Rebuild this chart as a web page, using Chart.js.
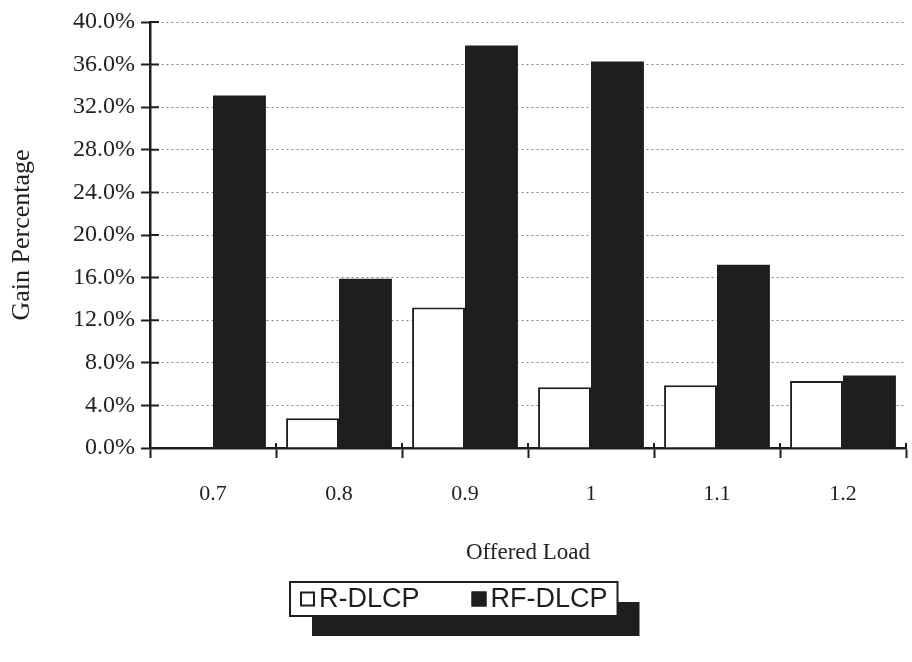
<!DOCTYPE html>
<html>
<head>
<meta charset="utf-8">
<style>
  html, body { margin: 0; padding: 0; background: #fff; }
  #wrap { width: 912px; height: 662px; }
</style>
<script src="https://cdn.jsdelivr.net/npm/chart.js@4.4.1/dist/chart.umd.min.js"></script>
</head>
<body>
<div id="wrap"><canvas id="gainChart" width="912" height="662"></canvas></div>
<script>
// Offered load categories and gain (%) for each scheme
const loads = ['0.7', '0.8', '0.9', '1', '1.1', '1.2'];
const rDlcp = [0, 2.8, 13.2, 5.7, 5.9, 6.3];
const rfDlcp = [33.1, 15.9, 37.8, 36.3, 17.2, 6.8];

const ink = '#1e1e1e';
const serif = '"Liberation Serif", "Times New Roman", serif';

// tick marks in the original cross the axis lines, Chart.js only draws the outer half
const crossTicks = {
    id: 'crossTicks',
    afterDraw(chart) {
        const { ctx, scales: { x, y } } = chart;
        ctx.save();
        ctx.strokeStyle = ink;
        ctx.lineWidth = 2;
        ctx.beginPath();
        y.ticks.forEach((t, i) => {
            const py = y.getPixelForTick(i);
            ctx.moveTo(y.right, py);
            ctx.lineTo(y.right + 9, py);
        });
        for (let i = 0; i <= loads.length; i++) {
            const px = x.getPixelForValue(i - 0.5);
            ctx.moveTo(px, x.top);
            ctx.lineTo(px, x.top - 5);
        }
        ctx.stroke();
        ctx.restore();
    }
};

// boxed legend with a drop shadow, drawn under the axis title
const boxLegend = {
    id: 'boxLegend',
    afterDraw(chart) {
        const ctx = chart.ctx;
        const sets = chart.data.datasets;
        ctx.save();
        ctx.font = '27px "Liberation Sans", Arial, sans-serif';
        const sq = 15, gapText = 4, gapItem = 52, pad = 10;
        const widths = sets.map(d => ctx.measureText(d.label).width);
        let inner = gapItem * (sets.length - 1);
        widths.forEach(w => { inner += sq + gapText + w; });
        const boxW = inner + pad * 2;
        const boxH = 34;
        const left = Math.round(chart.width / 2 - boxW / 2) - 2;
        const top = chart.height - 80;

        ctx.fillStyle = ink;
        ctx.fillRect(left + 22, top + 20, boxW, boxH);
        ctx.fillStyle = '#fff';
        ctx.fillRect(left, top, boxW, boxH);
        ctx.lineWidth = 2;
        ctx.strokeStyle = ink;
        ctx.strokeRect(left, top, boxW, boxH);

        let cx = left + pad;
        const cy = top + boxH / 2;
        ctx.textBaseline = 'middle';
        sets.forEach((d, i) => {
            ctx.fillStyle = d.backgroundColor;
            ctx.fillRect(cx, cy - sq / 2, sq, sq);
            ctx.lineWidth = 2;
            ctx.strokeStyle = ink;
            ctx.strokeRect(cx + 1, cy - sq / 2 + 1, sq - 2, sq - 2);
            cx += sq + gapText;
            ctx.fillStyle = ink;
            ctx.fillText(d.label, cx, cy + 1);
            cx += widths[i] + gapItem;
        });
        ctx.restore();
    }
};

const ctx = document.getElementById('gainChart').getContext('2d');
new Chart(ctx, {
    type: 'bar',
    data: {
        labels: loads,
        datasets: [{
            label: 'R-DLCP',
            data: rDlcp,
            backgroundColor: '#ffffff',
            borderColor: ink,
            borderWidth: 2,
            categoryPercentage: 0.84,
            barPercentage: 1.0
        }, {
            label: 'RF-DLCP',
            data: rfDlcp,
            backgroundColor: ink,
            borderColor: ink,
            borderWidth: 0,
            categoryPercentage: 0.84,
            barPercentage: 1.0
        }]
    },
    options: {
        responsive: false,
        animation: false,
        layout: { padding: { top: 22, right: 6, bottom: 80, left: 0 } },
        plugins: {
            legend: { display: false },
            tooltip: { enabled: false }
        },
        scales: {
            y: {
                min: 0,
                max: 40,
                afterFit(scale) { scale.width = 150; },
                ticks: {
                    stepSize: 4,
                    padding: 6,
                    color: '#222',
                    font: { family: serif, size: 24 },
                    callback: v => v.toFixed(1) + '%'
                },
                grid: {
                    color: 'rgba(90,90,90,0.75)',
                    lineWidth: 1,
                    tickLength: 9,
                    tickColor: ink,
                    tickWidth: 2
                },
                border: { color: ink, width: 2.5, dash: [2, 3] },
                title: {
                    display: true,
                    text: 'Gain Percentage',
                    color: '#222',
                    font: { family: serif, size: 26 },
                    padding: { top: 7, bottom: 0 }
                }
            },
            x: {
                afterFit(scale) { scale.height = 134; },
                ticks: {
                    padding: 23,
                    color: '#222',
                    font: { family: serif, size: 22 }
                },
                grid: {
                    drawOnChartArea: false,
                    tickLength: 10,
                    tickColor: ink,
                    tickWidth: 2
                },
                border: { color: ink, width: 2.5 },
                title: {
                    display: true,
                    text: 'Offered Load',
                    color: '#222',
                    font: { family: serif, size: 23 },
                    padding: { top: 0, bottom: 15 }
                }
            }
        }
    },
    plugins: [crossTicks, boxLegend]
});
</script>
</body>
</html>
